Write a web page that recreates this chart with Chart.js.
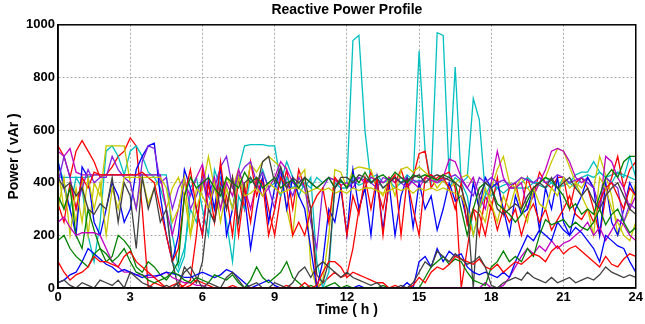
<!DOCTYPE html>
<html>
<head>
<meta charset="utf-8">
<script src="https://cdn.jsdelivr.net/npm/chart.js@4"></script>
<style>
  html, body { margin: 0; padding: 0; background: #fff; }
  #wrap { position: relative; width: 645px; height: 324px; }
</style>
</head>
<body>
<div id="wrap"><canvas id="chart"></canvas></div>
<script>
// time of day, quarter-hour steps
const times = [
  0, 0.25, 0.5, 0.75, 1, 1.25, 1.5, 1.75, 2, 2.25, 2.5, 2.75,
  3, 3.25, 3.5, 3.75, 4, 4.25, 4.5, 4.75, 5, 5.25, 5.5, 5.75,
  6, 6.25, 6.5, 6.75, 7, 7.25, 7.5, 7.75, 8, 8.25, 8.5, 8.75,
  9, 9.25, 9.5, 9.75, 10, 10.25, 10.5, 10.75, 11, 11.25, 11.5, 11.75,
  12, 12.25, 12.5, 12.75, 13, 13.25, 13.5, 13.75, 14, 14.25, 14.5, 14.75,
  15, 15.25, 15.5, 15.75, 16, 16.25, 16.5, 16.75, 17, 17.25, 17.5, 17.75,
  18, 18.25, 18.5, 18.75, 19, 19.25, 19.5, 19.75, 20, 20.25, 20.5, 20.75,
  21, 21.25, 21.5, 21.75, 22, 22.25, 22.5, 22.75, 23, 23.25, 23.5, 23.75,
  24
];

const xTicks = [0, 3, 6, 9, 12, 15, 18, 21, 24];
const yTicks = [0, 200, 400, 600, 800, 1000];

// reactive power per load (vAr)
const cyanPeak = [
  420,420,420,420, 420,420,430,430, 430,430,430,430, 430,430,430,430,
  430,430,430,200, 80,150,300,250, 400,350,300,420, 380,300,450,540,
  545,545,545,540, 540,400,480,420, 350,400,380,420, 400,420,410,400,
  400,940,960,600, 400,410,380,400, 420,400,430,410, 900,520,400,970,
  960,420,840,400, 420,720,640,360, 350,380,360,380, 380,380,380,400,
  390,380,400,380, 390,400,380,420, 430,420,440,420, 430,440,430,420,
  410
];
const cyanLoad = [
  480,400,300,420, 380,200,100,250, 520,540,500,430, 520,540,500,440,
  420,380,300,100, 60,120,380,420, 300,200,450,380, 250,100,350,300,
  420,380,450,380, 400,350,420,380, 400,380,420,100, 0,60,400,380,
  380,410,390,400, 420,430,400,410, 380,400,420,400, 410,400,420,400,
  410,380,420,400, 350,200,300,350, 400,380,390,400, 380,400,420,400,
  400,420,400,380, 420,400,430,440, 440,480,440,420, 400,440,420,500,
  420
];
const redHigh = [
  540,500,420,520, 560,520,480,420, 430,460,500,520, 570,540,300,0,
  20,10,0,0, 0,10,30,200, 450,300,250,400, 350,200,420,300,
  480,350,420,300, 200,350,450,300, 450,380,300,0, 20,40,60,40,
  50,150,300,380, 440,380,300,420, 400,450,380,420, 510,520,380,420,
  430,440,380,0, 150,300,200,350, 300,420,280,380, 400,300,420,350,
  440,400,380,420, 420,300,400,420, 380,300,200,350, 420,500,380,450,
  480
];
const redMid = [
  320,250,400,300, 420,380,440,430, 430,430,430,430, 430,430,440,420,
  400,300,200,100, 150,350,450,300, 200,400,250,480, 300,420,200,380,
  250,420,400,200, 300,420,380,200, 250,200,300,350, 380,250,420,390,
  200,350,280,420, 300,420,200,400, 430,200,410,300, 200,420,430,410,
  420,380,300,400, 240,300,280,200, 320,220,300,250, 300,200,280,320,
  250,300,220,260, 300,350,280,260, 300,250,330,380, 400,350,300,380,
  350
];
const redLow = [
  100,60,30,50, 60,80,120,100, 100,90,80,120, 140,100,80,60,
  40,20,0,10, 20,0,10,30, 20,10,0,0, 0,10,0,0,
  0,0,0,0, 0,0,10,0, 0,20,0,10, 60,100,100,80,
  40,60,50,40, 30,20,20,0, 10,0,0,10, 40,20,60,80,
  70,90,120,110, 100,90,110,80, 70,90,60,80, 100,90,110,130,
  120,100,140,160, 130,150,160,140, 120,100,80,120, 90,80,110,130,
  120
];
const yellowHigh = [
  450,300,380,250, 420,200,400,350, 540,540,540,540, 400,300,420,320,
  380,420,300,380, 420,350,200,300, 380,500,380,300, 420,380,450,360,
  470,440,480,500, 480,460,300,200, 420,450,80,0, 30,200,450,440,
  380,450,460,455, 450,380,350,420, 350,450,460,440, 460,440,420,380,
  410,380,400,420, 430,400,300,250, 380,450,500,400, 380,420,380,350,
  400,420,480,530, 520,460,400,380, 420,380,500,430, 350,200,250,300,
  400
];
const yellowMid = [
  300,420,200,380, 250,420,300,400, 200,380,300,420, 420,420,420,420,
  420,420,380,250, 300,420,200,380, 350,300,400,250, 380,300,420,350,
  360,380,350,400, 380,360,370,380, 380,360,370,380, 370,380,360,370,
  360,380,370,380, 380,370,360,370, 380,370,380,360, 380,370,380,370,
  380,370,360,350, 300,200,300,380, 320,250,350,300, 380,300,250,380,
  320,300,380,350, 420,380,400,350, 300,200,420,380, 300,250,200,180,
  250
];
const magentaHigh = [
  520,500,530,440, 430,430,430,430, 430,430,430,430, 430,430,430,430,
  430,430,300,200, 300,400,350,420, 470,350,420,300, 400,350,450,380,
  300,400,350,380, 420,480,450,400, 380,420,400,380, 400,420,410,390,
  400,380,420,400, 420,410,400,420, 400,420,410,400, 380,420,410,400,
  420,490,480,420, 380,420,350,300, 400,520,420,380, 380,400,300,350,
  400,450,520,530, 520,480,420,400, 420,380,300,500, 480,420,380,300,
  350
];
const magentaLow = [
  250,270,230,200, 210,210,210,200, 150,100,80,60, 60,50,50,40,
  40,50,60,40, 30,20,20,10, 10,0,0,0, 0,0,0,0,
  0,0,0,0, 0,0,0,0, 0,0,0,0, 0,0,0,0,
  0,0,0,0, 0,0,0,0, 0,0,0,0, 0,0,0,0,
  0,0,0,0, 0,0,0,20, 0,0,10,40, 80,120,150,130,
  160,140,180,150, 170,180,200,220, 250,200,230,180, 220,260,240,200,
  180
];
const purpleMid = [
  400,500,420,300, 380,450,400,420, 420,500,450,420, 400,300,480,540,
  530,400,420,300, 380,420,300,350, 420,300,380,460, 500,380,420,460,
  480,400,440,380, 300,450,400,350, 420,380,250,150, 380,420,380,410,
  380,400,420,410, 400,380,420,410, 420,400,380,410, 400,420,430,410,
  410,420,430,410, 380,350,420,400, 420,400,410,390, 400,420,410,400,
  420,400,410,430, 420,400,410,420, 400,380,300,420, 400,380,250,320,
  300
];
const blueHigh = [
  480,380,300,200, 460,420,250,200, 300,400,350,250, 300,450,500,540,
  550,350,200,100, 200,450,380,300, 200,420,300,460, 200,300,420,350,
  150,300,420,250, 380,450,300,420, 350,300,150,0, 100,300,250,380,
  200,450,300,380, 200,420,220,400, 200,350,420,230, 400,300,350,220,
  300,400,330,350, 250,400,300,420, 380,400,300,200, 350,280,300,380,
  220,380,300,420, 250,200,300,350, 420,380,200,400, 250,200,300,400,
  350
];
const blueLow = [
  20,30,50,60, 100,150,130,110, 90,80,60,70, 60,50,40,50,
  45,50,60,55, 50,40,40,50, 60,50,40,50, 70,60,40,20,
  0,10,20,30, 10,0,0,0, 0,0,0,0, 0,0,0,0,
  0,0,10,0, 0,0,0,0, 0,0,20,0, 100,120,80,150,
  100,140,120,130, 80,60,50,60, 50,40,60,40, 100,150,200,180,
  220,200,180,250, 220,200,230,210, 180,150,100,200, 180,160,150,100,
  60
];
const greenLow = [
  180,200,150,120, 100,80,130,150, 130,100,120,150, 100,60,50,30,
  20,30,40,60, 50,30,20,40, 30,20,50,40, 30,50,20,0,
  30,80,40,20, 40,60,100,40, 20,0,10,0, 0,10,20,0,
  10,0,0,0, 0,0,10,0, 0,0,0,0, 0,40,80,100,
  120,90,110,100, 60,30,20,10, 80,100,140,100, 120,100,150,120,
  200,260,240,250, 260,230,250,230, 220,250,300,240, 280,300,250,210,
  230
];
const greenMid = [
  350,300,380,200, 150,300,220,150, 100,120,200,180, 150,80,60,100,
  80,50,30,60, 100,350,420,380, 400,420,380,350, 420,400,380,440,
  400,420,380,400, 420,380,400,410, 380,420,400,380, 400,420,380,410,
  380,430,400,440, 400,420,430,410, 440,420,400,430, 420,430,420,410,
  430,420,400,300, 200,300,380,400, 380,320,300,280, 250,280,330,380,
  400,420,410,380, 350,300,320,280, 300,280,350,420, 450,420,480,500,
  500
];
const grayMid = [
  420,380,400,350, 380,300,280,320, 300,420,250,400, 350,150,420,300,
  380,250,300,100, 0,80,50,20, 100,300,250,380, 300,420,250,400,
  420,380,480,500, 400,460,380,420, 400,420,300,50, 20,100,380,420,
  420,400,430,420, 400,420,380,400, 420,400,410,420, 430,400,420,430,
  420,410,400,380, 300,0,350,400, 380,300,280,300, 320,300,350,380,
  400,380,420,380, 400,420,380,350, 380,330,300,350, 380,400,350,300,
  280
];
const grayLow = [
  20,30,10,0, 20,10,0,30, 20,10,30,0, 60,40,20,10,
  0,0,10,0, 20,60,80,40, 0,20,10,0, 40,60,30,0,
  10,20,0,0, 20,10,0,20, 60,80,40,80, 100,80,60,40,
  60,40,30,20, 10,20,0,0, 0,10,0,20, 60,100,80,140,
  120,100,130,110, 90,100,120,80, 10,0,20,30, 40,30,60,40,
  30,20,40,20, 30,40,20,30, 40,30,50,80, 60,50,40,50,
  40
];

const series = [
  { values: grayLow, color: '#404040' },
  { values: redLow, color: '#ff0000' },
  { values: greenLow, color: '#008000' },
  { values: blueLow, color: '#0000ff' },
  { values: magentaLow, color: '#c000c0' },
  { values: grayMid, color: '#404040' },
  { values: greenMid, color: '#008000' },
  { values: yellowMid, color: '#c8c800' },
  { values: redMid, color: '#ff0000' },
  { values: purpleMid, color: '#8020e0' },
  { values: blueHigh, color: '#0000ff' },
  { values: magentaHigh, color: '#c000c0' },
  { values: yellowHigh, color: '#c8c800' },
  { values: cyanLoad, color: '#00bfbf' },
  { values: redHigh, color: '#ff0000' },
  { values: cyanPeak, color: '#00bfbf' }
];

const datasets = series.map(s => ({
  data: s.values.map((v, i) => ({ x: times[i], y: v })),
  borderColor: s.color,
  borderWidth: 1.3,
  pointRadius: 0,
  tension: 0,
  fill: false
}));

const family = 'Liberation Sans, Arial, sans-serif';
const tickFont = { family, size: 13, weight: 'bold' };
const titleFont = { family, size: 14, weight: 'bold' };

const boxPlugin = {
  id: 'box',
  afterDraw(chart) {
    const { ctx, chartArea: a } = chart;
    ctx.save();
    ctx.strokeStyle = '#000';
    ctx.lineWidth = 1.5;
    ctx.strokeRect(a.left, a.top, a.right - a.left, a.bottom - a.top);
    ctx.restore();
  }
};

new Chart(document.getElementById('chart'), {
  type: 'line',
  data: { datasets },
  options: {
    responsive: true,
    maintainAspectRatio: false,
    animation: false,
    layout: { padding: { left: 0, right: 8, top: 0, bottom: 0 } },
    plugins: {
      legend: { display: false },
      tooltip: { enabled: false },
      title: {
        display: true,
        fullSize: false,
        text: 'Reactive Power Profile',
        color: '#000',
        font: titleFont,
        padding: { top: 2, bottom: 6 }
      }
    },
    scales: {
      x: {
        type: 'linear',
        min: 0,
        max: 24,
        afterBuildTicks: s => { s.ticks = xTicks.map(v => ({ value: v })); },
        afterFit: s => { s.height = 36; },
        ticks: { color: '#000', font: tickFont, padding: 2, maxRotation: 0, callback: v => String(v) },
        grid: { color: '#aaa', drawTicks: false },
        border: { color: '#000', width: 1.5, dash: [2, 2] },
        title: { display: true, text: 'Time ( h )', color: '#000', font: titleFont, padding: { top: 0, bottom: 5 } }
      },
      y: {
        min: 0,
        max: 1000,
        afterBuildTicks: s => { s.ticks = yTicks.map(v => ({ value: v })); },
        afterFit: s => { s.width = 58; },
        ticks: { color: '#000', font: tickFont, padding: 3, callback: v => String(v) },
        grid: { color: '#aaa', drawTicks: false },
        border: { color: '#000', width: 1.5, dash: [2, 2] },
        title: { display: true, text: 'Power ( vAr )', color: '#000', font: titleFont, padding: { top: 6, bottom: 0 } }
      }
    }
  },
  plugins: [boxPlugin]
});
</script>
</body>
</html>
